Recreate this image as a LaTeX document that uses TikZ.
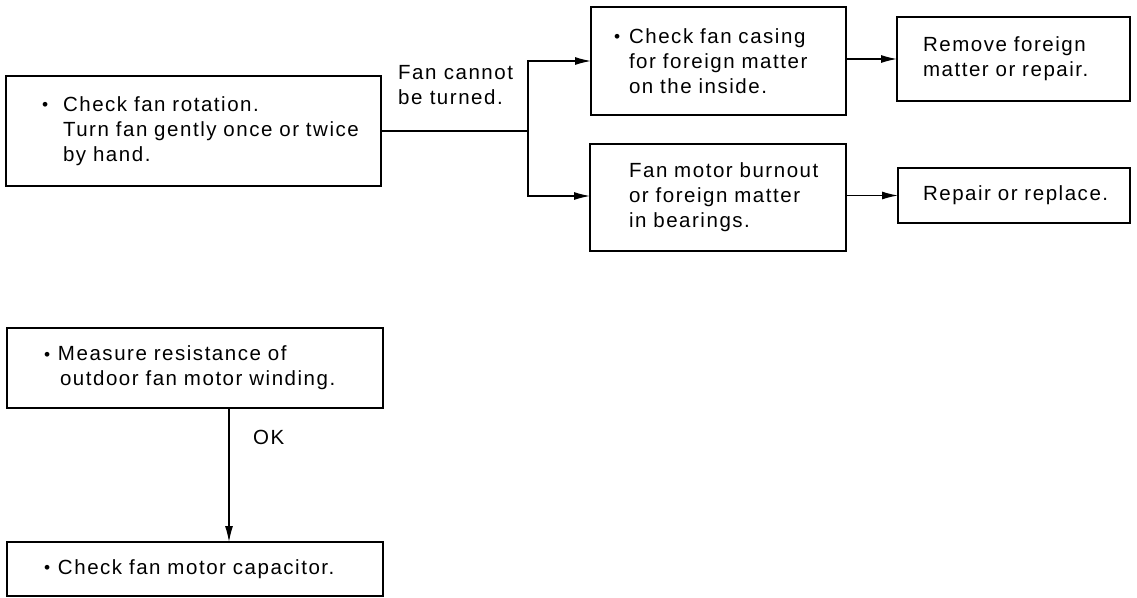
\documentclass[tikz,border=0pt]{standalone}
\usepackage{fontspec}
\setmainfont[LetterSpace=7.5]{Liberation Sans}
\usetikzlibrary{arrows.meta}
\newcommand\bul[1]{\makebox[#1][l]{\raisebox{0.8pt}{\scalebox{0.85}{\textbullet}}}}
\newcommand\ind[1]{\hspace*{#1}}
\begin{document}
\begin{tikzpicture}[x=1pt,y=-1pt,
  txt/.style={font=\fontsize{20.5}{25}\selectfont},
  box/.style={txt,draw,rectangle,inner sep=0pt,outer sep=0pt,anchor=north west,align=left,line width=1.2pt},
  heavy/.style={box,line width=2.4pt},
  conn/.style={line width=1.2pt},
  arr/.style={conn,-{Latex[length=16pt,width=8pt]}},
  lbl/.style={txt,inner sep=0pt,align=left}]
\useasboundingbox (0,0) rectangle (1137,597);

\node[heavy,text width=375pt,minimum height=110pt] (A) at (6,76)
  {\ind{36pt}\bul{21pt}Check fan rotation.\\
   \ind{57pt}Turn fan gently once or twice\\
   \ind{57pt}by hand.};

\node[box,text width=255pt,minimum height=108pt] (B) at (591,7)
  {\ind{23pt}\bul{15pt}Check fan casing\\
   \ind{38pt}for foreign matter\\
   \ind{38pt}on the inside.};

\node[box,text width=256pt,minimum height=107pt] (C) at (590,144)
  {\ind{39pt}Fan motor burnout\\
   \ind{39pt}or foreign matter\\
   \ind{39pt}in bearings.};

\node[box,text width=233pt,minimum height=84pt] (D) at (897,17)
  {\ind{26pt}Remove foreign\\
   \ind{26pt}matter or repair.};

\node[box,text width=232pt,minimum height=55pt] (E) at (898,168)
  {\ind{25pt}Repair or replace.};

\node[heavy,text width=376pt,minimum height=80pt] (F) at (7,328)
  {\ind{37pt}\bul{14pt}Measure resistance of\\
   \ind{53pt}outdoor fan motor winding.};

\node[heavy,text width=376pt,minimum height=54pt] (G) at (7,542)
  {\ind{37pt}\bul{14pt}Check fan motor capacitor.};

\node[lbl,anchor=west] (L1) at (398,85) {Fan cannot\\be turned.};
\node[lbl,anchor=west] (L2) at (253,437) {OK};

\coordinate (j) at (528,131);
\draw[conn] (A.east) -- (j);
\draw[arr] (j) |- (B.west);
\draw[arr] (j) |- ([yshift=1.5pt]C.west);
\draw[arr] (B.east |- D.west) -- (D.west);
\draw[arr] (C.east |- E.west) -- (E.west);
\draw[arr] ([xshift=34pt]F.south) -- ([xshift=34pt]F.south |- G.north);
\end{tikzpicture}
\end{document}
